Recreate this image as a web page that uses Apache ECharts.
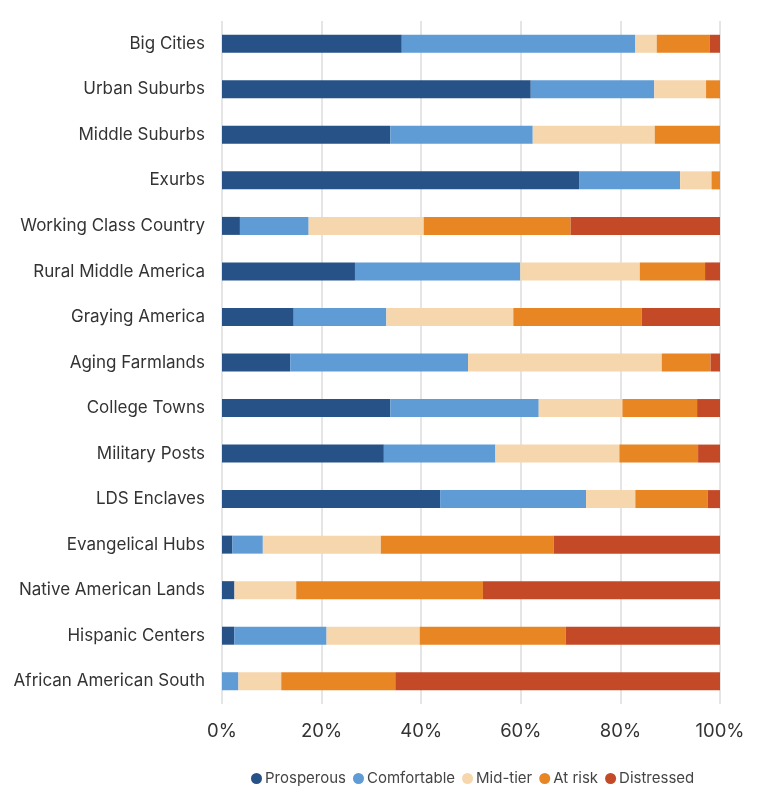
<!DOCTYPE html>
<html>
<head>
<meta charset="utf-8">
<script src="https://cdn.jsdelivr.net/npm/echarts@6/dist/echarts.min.js"></script>
<style>html,body{margin:0;padding:0;background:#fff;}#c{width:768px;height:789px;}</style>
</head>
<body>
<div id="c"></div>
<script>
const categories = ["Big Cities","Urban Suburbs","Middle Suburbs","Exurbs","Working Class Country","Rural Middle America","Graying America","Aging Farmlands","College Towns","Military Posts","LDS Enclaves","Evangelical Hubs","Native American Lands","Hispanic Centers","African American South"];
const prosperous   = [36.1, 62.0, 33.8, 71.7, 3.6, 26.7, 14.4, 13.7, 33.8, 32.5, 43.8, 2.1, 2.5, 2.5, 0];
const comfortable  = [46.9, 24.8, 28.6, 20.3, 13.8, 33.2, 18.6, 35.7, 29.8, 22.4, 29.3, 6.1, 0, 18.5, 3.3];
const midTier      = [4.3, 10.4, 24.5, 6.3, 23.1, 24.0, 25.5, 38.9, 16.8, 24.9, 9.9, 23.7, 12.4, 18.7, 8.6];
const atRisk       = [10.6, 2.8, 13.1, 1.7, 29.5, 13.1, 25.8, 9.8, 15.0, 15.8, 14.5, 34.7, 37.5, 29.3, 22.9];
const distressed   = [2.1, 0, 0, 0, 30.0, 3.0, 15.7, 1.9, 4.6, 4.4, 2.5, 33.4, 47.6, 31.0, 65.2];
const seriesNames = ["Prosperous","Comfortable","Mid-tier","At risk","Distressed"];
const xTicks = [0, 20, 40, 60, 80, 100];

const colors = ["#265287","#5f9bd5","#f6d6ad","#e88624","#c44a27"];
const dataSets = [prosperous, comfortable, midTier, atRisk, distressed];
const chart = echarts.init(document.getElementById('c'));
const font = "Inter, 'Noto Sans', sans-serif";
chart.setOption({
  animation: false,
  backgroundColor: '#fff',
  textStyle: {fontFamily: font},
  grid: {left: 222, right: 48, top: 21, bottom: 85, containLabel: false},
  xAxis: {
    type: 'value', min: 0, max: 100, interval: 20,
    axisLine: {show: false},
    axisTick: {show: false},
    splitLine: {show: true, lineStyle: {color: '#dcdcdc', width: 1.5}},
    axisLabel: {formatter: v => v + '%', fontSize: 18.5, color: '#333', margin: 18, fontFamily: font}
  },
  yAxis: {
    type: 'category', inverse: true, data: categories,
    axisLine: {show: false}, axisTick: {show: false},
    axisLabel: {fontSize: 17, color: '#333', margin: 17, fontFamily: font}
  },
  legend: {
    data: seriesNames, left: 246, top: 766, icon: 'circle', itemWidth: 11, itemHeight: 11, itemGap: 7,
    textStyle: {fontSize: 15, color: '#444', fontFamily: font, padding: [0,0,0,-2]}
  },
  series: seriesNames.map((n, i) => ({
    name: n, type: 'bar', stack: 'total', data: dataSets[i], barWidth: 18,
    itemStyle: {color: colors[i]}
  }))
});
</script>
</body>
</html>
